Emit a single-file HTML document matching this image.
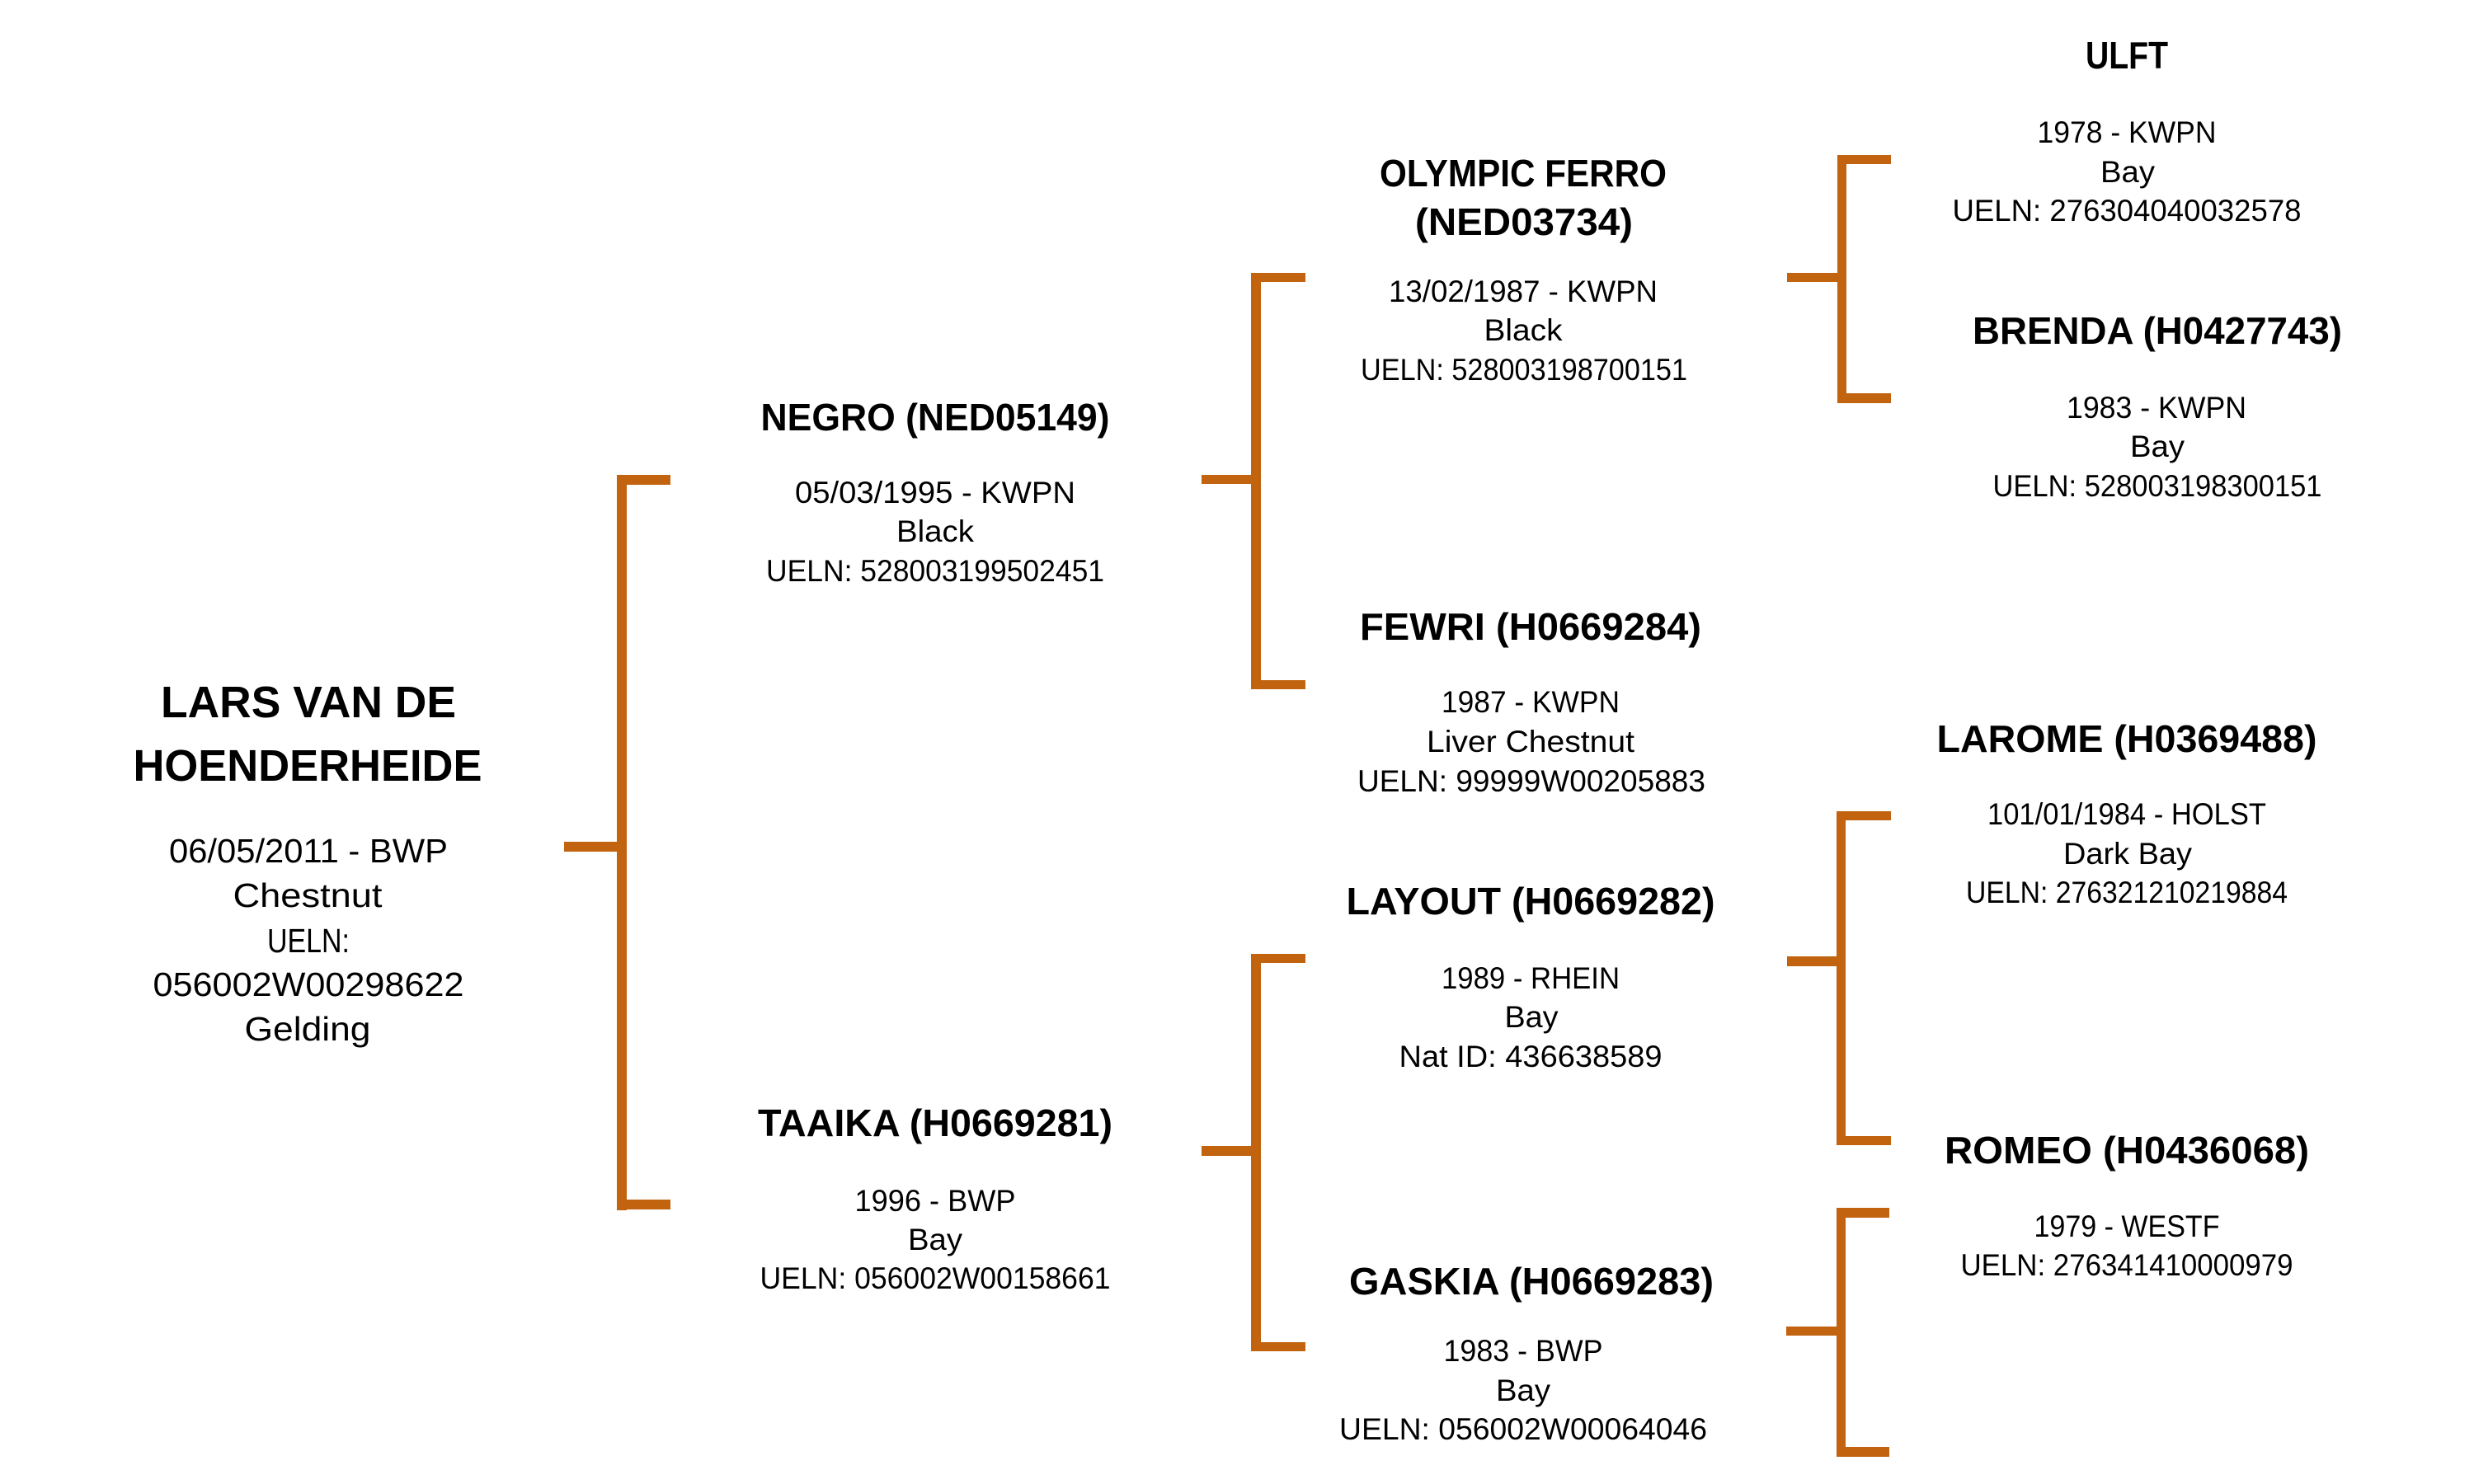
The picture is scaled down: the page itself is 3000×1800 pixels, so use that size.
<!DOCTYPE html>
<html>
<head>
<meta charset="utf-8">
<style>
html,body{margin:0;padding:0;background:#fff;}
svg{display:block;}
.t{font-family:"Liberation Sans",Arial,sans-serif;font-weight:bold;fill:#000;}
.d{font-family:"Liberation Sans",Arial,sans-serif;font-weight:normal;fill:#000;}
</style>
</head>
<body>
<svg width="3000" height="1800" viewBox="0 0 3000 1800" xmlns="http://www.w3.org/2000/svg">
<rect width="3000" height="1800" fill="#fff"/>
<g fill="#C1630F">
  <!-- Bracket 1 -->
  <rect x="748" y="576" width="12" height="892"/>
  <rect x="748" y="576" width="65" height="12"/>
  <rect x="748" y="1455" width="65" height="12"/>
  <rect x="684" y="1021" width="66" height="12"/>
  <!-- Bracket 2 -->
  <rect x="1517" y="331" width="12" height="505"/>
  <rect x="1517" y="331" width="66" height="11"/>
  <rect x="1517" y="825" width="66" height="11"/>
  <rect x="1457" y="576" width="62" height="11"/>
  <!-- Bracket 3 -->
  <rect x="1517" y="1157" width="12" height="482"/>
  <rect x="1517" y="1157" width="66" height="11"/>
  <rect x="1517" y="1628" width="66" height="11"/>
  <rect x="1457" y="1390" width="62" height="12"/>
  <!-- Bracket 4 -->
  <rect x="2228" y="188" width="11" height="301"/>
  <rect x="2228" y="188" width="65" height="11"/>
  <rect x="2228" y="477" width="65" height="12"/>
  <rect x="2167" y="331" width="63" height="11"/>
  <!-- Bracket 5 -->
  <rect x="2227" y="984" width="11" height="405"/>
  <rect x="2227" y="984" width="66" height="11"/>
  <rect x="2227" y="1378" width="66" height="11"/>
  <rect x="2167" y="1160" width="62" height="12"/>
  <!-- Bracket 6 -->
  <rect x="2227" y="1465" width="11" height="302"/>
  <rect x="2227" y="1465" width="64" height="12"/>
  <rect x="2227" y="1755" width="64" height="12"/>
  <rect x="2166" y="1609" width="63" height="11"/>
</g>

<!-- Root -->
<g text-anchor="middle">
  <text class="t" font-size="54" x="374" y="870" textLength="358" lengthAdjust="spacingAndGlyphs">LARS VAN DE</text>
  <text class="t" font-size="54" x="373" y="947" textLength="423" lengthAdjust="spacingAndGlyphs">HOENDERHEIDE</text>
  <text class="d" font-size="41" x="374" y="1046" textLength="338" lengthAdjust="spacingAndGlyphs">06/05/2011 - BWP</text>
  <text class="d" font-size="41" x="373" y="1100" textLength="181" lengthAdjust="spacingAndGlyphs">Chestnut</text>
  <text class="d" font-size="41" x="374" y="1155" textLength="100" lengthAdjust="spacingAndGlyphs">UELN:</text>
  <text class="d" font-size="41" x="374" y="1208" textLength="377" lengthAdjust="spacingAndGlyphs">056002W00298622</text>
  <text class="d" font-size="41" x="373" y="1262" textLength="153" lengthAdjust="spacingAndGlyphs">Gelding</text>

  <!-- NEGRO -->
  <text class="t" font-size="46" x="1134" y="522" textLength="423" lengthAdjust="spacingAndGlyphs">NEGRO (NED05149)</text>
  <text class="d" font-size="37" x="1134" y="610" textLength="340" lengthAdjust="spacingAndGlyphs">05/03/1995 - KWPN</text>
  <text class="d" font-size="37" x="1134" y="657" textLength="94" lengthAdjust="spacingAndGlyphs">Black</text>
  <text class="d" font-size="37" x="1134" y="705" textLength="410" lengthAdjust="spacingAndGlyphs">UELN: 528003199502451</text>

  <!-- TAAIKA -->
  <text class="t" font-size="46" x="1134" y="1378" textLength="430" lengthAdjust="spacingAndGlyphs">TAAIKA (H0669281)</text>
  <text class="d" font-size="37" x="1134" y="1469" textLength="195" lengthAdjust="spacingAndGlyphs">1996 - BWP</text>
  <text class="d" font-size="37" x="1134" y="1516" textLength="66" lengthAdjust="spacingAndGlyphs">Bay</text>
  <text class="d" font-size="37" x="1134" y="1563" textLength="425" lengthAdjust="spacingAndGlyphs">UELN: 056002W00158661</text>

  <!-- OLYMPIC FERRO -->
  <text class="t" font-size="46" x="1847" y="226" textLength="348" lengthAdjust="spacingAndGlyphs">OLYMPIC FERRO</text>
  <text class="t" font-size="46" x="1848" y="285" textLength="264" lengthAdjust="spacingAndGlyphs">(NED03734)</text>
  <text class="d" font-size="37" x="1847" y="366" textLength="326" lengthAdjust="spacingAndGlyphs">13/02/1987 - KWPN</text>
  <text class="d" font-size="37" x="1847" y="413" textLength="95" lengthAdjust="spacingAndGlyphs">Black</text>
  <text class="d" font-size="37" x="1848" y="461" textLength="396" lengthAdjust="spacingAndGlyphs">UELN: 528003198700151</text>

  <!-- FEWRI -->
  <text class="t" font-size="46" x="1856" y="776" textLength="414" lengthAdjust="spacingAndGlyphs">FEWRI (H0669284)</text>
  <text class="d" font-size="37" x="1856" y="864" textLength="216" lengthAdjust="spacingAndGlyphs">1987 - KWPN</text>
  <text class="d" font-size="37" x="1856" y="912" textLength="252" lengthAdjust="spacingAndGlyphs">Liver Chestnut</text>
  <text class="d" font-size="37" x="1857" y="960" textLength="422" lengthAdjust="spacingAndGlyphs">UELN: 99999W00205883</text>

  <!-- LAYOUT -->
  <text class="t" font-size="46" x="1856" y="1109" textLength="447" lengthAdjust="spacingAndGlyphs">LAYOUT (H0669282)</text>
  <text class="d" font-size="37" x="1856" y="1199" textLength="216" lengthAdjust="spacingAndGlyphs">1989 - RHEIN</text>
  <text class="d" font-size="37" x="1857" y="1246" textLength="65" lengthAdjust="spacingAndGlyphs">Bay</text>
  <text class="d" font-size="37" x="1856" y="1294" textLength="319" lengthAdjust="spacingAndGlyphs">Nat ID: 436638589</text>

  <!-- GASKIA -->
  <text class="t" font-size="46" x="1857" y="1570" textLength="442" lengthAdjust="spacingAndGlyphs">GASKIA (H0669283)</text>
  <text class="d" font-size="37" x="1847" y="1651" textLength="193" lengthAdjust="spacingAndGlyphs">1983 - BWP</text>
  <text class="d" font-size="37" x="1847" y="1699" textLength="66" lengthAdjust="spacingAndGlyphs">Bay</text>
  <text class="d" font-size="37" x="1847" y="1746" textLength="446" lengthAdjust="spacingAndGlyphs">UELN: 056002W00064046</text>

  <!-- ULFT -->
  <text class="t" font-size="46" x="2579" y="83" textLength="100" lengthAdjust="spacingAndGlyphs">ULFT</text>
  <text class="d" font-size="37" x="2579" y="173" textLength="217" lengthAdjust="spacingAndGlyphs">1978 - KWPN</text>
  <text class="d" font-size="37" x="2580" y="221" textLength="66" lengthAdjust="spacingAndGlyphs">Bay</text>
  <text class="d" font-size="37" x="2579" y="268" textLength="423" lengthAdjust="spacingAndGlyphs">UELN: 276304040032578</text>

  <!-- BRENDA -->
  <text class="t" font-size="46" x="2616" y="417" textLength="448" lengthAdjust="spacingAndGlyphs">BRENDA (H0427743)</text>
  <text class="d" font-size="37" x="2615" y="507" textLength="218" lengthAdjust="spacingAndGlyphs">1983 - KWPN</text>
  <text class="d" font-size="37" x="2616" y="554" textLength="66" lengthAdjust="spacingAndGlyphs">Bay</text>
  <text class="d" font-size="37" x="2616" y="602" textLength="399" lengthAdjust="spacingAndGlyphs">UELN: 528003198300151</text>

  <!-- LAROME -->
  <text class="t" font-size="46" x="2579" y="912" textLength="461" lengthAdjust="spacingAndGlyphs">LAROME (H0369488)</text>
  <text class="d" font-size="37" x="2579" y="1000" textLength="338" lengthAdjust="spacingAndGlyphs">101/01/1984 - HOLST</text>
  <text class="d" font-size="37" x="2580" y="1048" textLength="156" lengthAdjust="spacingAndGlyphs">Dark Bay</text>
  <text class="d" font-size="37" x="2579" y="1095" textLength="390" lengthAdjust="spacingAndGlyphs">UELN: 276321210219884</text>

  <!-- ROMEO -->
  <text class="t" font-size="46" x="2579" y="1411" textLength="442" lengthAdjust="spacingAndGlyphs">ROMEO (H0436068)</text>
  <text class="d" font-size="37" x="2579" y="1500" textLength="225" lengthAdjust="spacingAndGlyphs">1979 - WESTF</text>
  <text class="d" font-size="37" x="2579" y="1547" textLength="403" lengthAdjust="spacingAndGlyphs">UELN: 276341410000979</text>
</g>
</svg>
</body>
</html>
